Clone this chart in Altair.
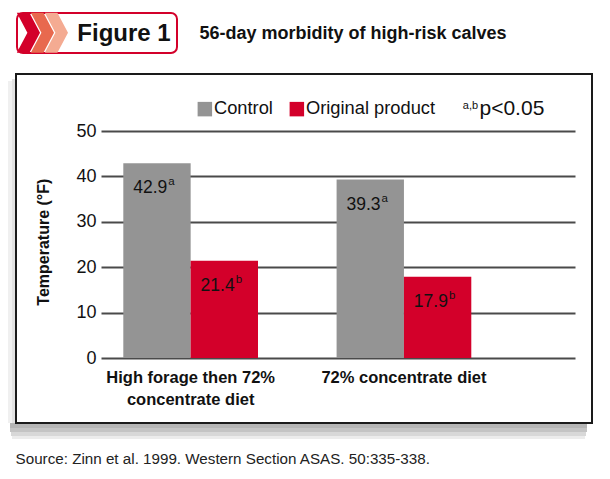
import json
import altair as alt
import pandas as pd

# ---------------- data ----------------
categories = ["High forage then 72% concentrate diet", "72% concentrate diet"]
series = ["Control", "Original product"]
control_values = [42.9, 39.3]
product_values = [21.4, 17.9]
control_sig = ["a", "a"]
product_sig = ["b", "b"]
y_ticks = [0, 10, 20, 30, 40, 50]
label_lines = {"High forage then 72% concentrate diet": ["High forage then 72%", "concentrate diet"]}

rows = []
for i, c in enumerate(categories):
    rows.append(dict(diet=c, group=series[0], value=control_values[i], sig=control_sig[i]))
    rows.append(dict(diet=c, group=series[1], value=product_values[i], sig=product_sig[i]))
df = pd.DataFrame(rows)
df["label"] = df["value"].map(lambda v: f"{v:.1f}")

# ---------------- style ----------------
GRAY = "#949494"
RED = "#d3002a"
SANS = "Liberation Sans"
W, H = 474, 227
PAD = {"left": 101, "top": 131, "right": 610 - 101 - W, "bottom": 479 - 131 - H}

expr = "datum.label"
for k, v in label_lines.items():
    expr = f"datum.label == {json.dumps(k)} ? {json.dumps(v)} : " + expr

one = pd.DataFrame({"_": [0]})
base = alt.Chart(one)


def rect(x, x2, y, y2, **kw):
    return base.mark_rect(**kw).encode(x=alt.value(x), x2=alt.value(x2), y=alt.value(y), y2=alt.value(y2))


def text(s, x, y, **kw):
    return base.mark_text(text=s, **kw).encode(x=alt.value(x), y=alt.value(y))


# shadow strips + frame
shadow = [
    rect(-91, 486, 292, 297, color="#b5b5b5"),
    rect(-91, 486, 297, 301, color="#c4c4c4"),
    rect(-90, 485, 301, 305, color="#d8d8d8"),
    rect(-89, 484, 305, 308, color="#ececec"),
    rect(-93, -89, -50, 292, color="#f0f0f0"),
    rect(-89, -85, -52, 292, color="#e2e2e2"),
]
frame = rect(-85, 491, -57, 292, fillOpacity=0, stroke="#1a1a1a", strokeWidth=2)

# header
hdr_box = rect(-84, 76, -118, -78, fill="white", stroke=RED, strokeWidth=2, cornerRadius=6)
CHEV = "M -0.58 -1 L 0.05 -1 L 0.58 0 L 0.05 1 L -0.58 1 L -0.05 0 Z"
chevs = [
    base.mark_point(shape=CHEV, filled=True, size=1600, color=col, opacity=1, strokeWidth=0).encode(
        x=alt.value(cx), y=alt.value(-98.3))
    for cx, col in [(-72.6, RED), (-58.6, "#e8694e"), (-44.6, "#f4ab92")]
]
fig_txt = text("Figure 1", -23.7, -90.3, align="left", baseline="alphabetic",
               font=SANS, fontWeight="bold", fontSize=24, color="#111")
sub_txt = text("56-day morbidity of high-risk calves", 98.5, -91.8, align="left", baseline="alphabetic",
               font=SANS, fontWeight="bold", fontSize=18, color="#111")
p_sup = text("a,b", 361.8, -22.5, align="left", baseline="alphabetic", font=SANS, fontSize=11, color="#111")
p_txt = text("p<0.05", 378.5, -16, align="left", baseline="alphabetic", font=SANS, fontSize=21, color="#111")
src_txt = text("Source: Zinn et al. 1999. Western Section ASAS. 50:335-338.", -85.4, 333,
               align="left", baseline="alphabetic", font=SANS, fontSize=15.2, color="#222")

# ---------------- main chart ----------------
x_enc = alt.X("diet:N", sort=categories,
              scale=alt.Scale(paddingInner=0.3685, paddingOuter=0.2954, align=0.177),
              axis=alt.Axis(title=None, labelAngle=0, domain=False, ticks=False, labelPadding=11,
                            labelFont=SANS, labelFontWeight="bold", labelFontSize=16.5, labelColor="#111",
                            labelLineHeight=22, labelExpr=expr, labelLimit=0, labelBaseline="top"))
xo_enc = alt.XOffset("group:N", sort=series, scale=alt.Scale(paddingInner=0, paddingOuter=0))
y_enc = alt.Y("value:Q", scale=alt.Scale(domain=[0, 50], nice=False),
              axis=alt.Axis(values=y_ticks, title="Temperature (°F)", grid=True, gridColor="#4a4a4a",
                            gridWidth=1.8, domain=False, ticks=False, tickSize=0, labelPadding=5,
                            labelFont=SANS, labelFontSize=18, labelColor="#111",
                            titleFont=SANS, titleFontWeight="bold", titleFontSize=16, titleColor="#111",
                            titleX=-52.7, titleY=110.7, titleBaseline="alphabetic", titleAngle=270))

mainb = alt.Chart(df)
bars = mainb.mark_bar().encode(
    x=x_enc, xOffset=xo_enc, y=y_enc,
    color=alt.Color("group:N", sort=series, scale=alt.Scale(domain=series, range=[GRAY, RED]),
                    legend=alt.Legend(title=None, orient="none", legendX=94.7, legendY=-31.3,
                                      direction="horizontal", symbolType="square", symbolSize=210,
                                      symbolStrokeWidth=0, labelFont=SANS, labelFontSize=18.3,
                                      labelColor="#111", labelOffset=0, columnPadding=14, padding=0)),
)
vals = mainb.mark_text(align="right", baseline="alphabetic", dx=10.3, dy=30, font=SANS,
                       fontSize=17.5, color="#111").encode(
    x=alt.X("diet:N", sort=categories), xOffset=alt.XOffset("group:N", sort=series), y="value:Q",
    text="label:N")
sups = mainb.mark_text(align="left", baseline="alphabetic", dx=11.3, dy=22, font=SANS,
                       fontSize=11.5, color="#111").encode(
    x=alt.X("diet:N", sort=categories), xOffset=alt.XOffset("group:N", sort=series), y="value:Q",
    text="sig:N")

chart = alt.layer(
    *shadow, frame, hdr_box, *chevs, fig_txt, sub_txt, p_sup, p_txt, src_txt, bars, vals, sups
).properties(
    width=W, height=H, autosize=alt.AutoSizeParams(type="none"), padding=PAD, background="white"
).configure_view(stroke=None)

chart.save("out.html", embed_options={"renderer": "svg", "actions": False})
